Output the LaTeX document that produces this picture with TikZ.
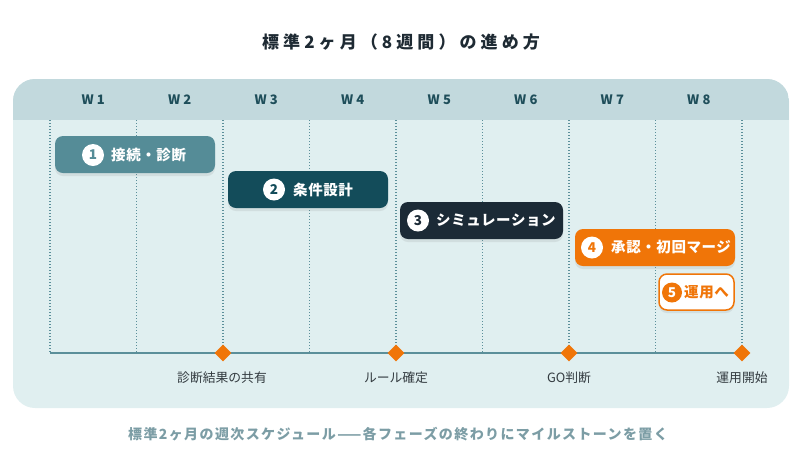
\documentclass[tikz,border=0pt]{standalone}
\usepackage{fontspec}
\setmainfont{Noto Sans CJK JP}
\newfontfamily\ttlfont{Noto Sans CJK JP}[LetterSpace=24]
\newfontfamily\capfont{Noto Sans CJK JP}[LetterSpace=10]
\newfontfamily\wkfam{Noto Sans CJK JP}[LetterSpace=25]
\newfontfamily\barfont{Noto Sans CJK JP}[LetterSpace=4]
\usetikzlibrary{shapes.geometric,shadows}
\definecolor{hdr}{HTML}{C2D9DD}
\definecolor{body}{HTML}{E0EFF0}
\definecolor{dotc}{HTML}{5B8F9A}
\definecolor{wktext}{HTML}{1E4E5A}
\definecolor{cA}{HTML}{558C97}
\definecolor{cB}{HTML}{134C5A}
\definecolor{cC}{HTML}{1B2A36}
\definecolor{org}{HTML}{F07508}
\definecolor{mstext}{HTML}{333B40}
\definecolor{captxt}{HTML}{7C9DA5}
\definecolor{ttl}{HTML}{1E2A33}
\tikzset{
  bar/.style={rounded corners=8pt, minimum height=37pt, inner sep=0pt,
    drop shadow={opacity=0.15, shadow xshift=0pt, shadow yshift=-3pt}},
  num/.style={circle, fill=white, minimum size=22pt, inner sep=0pt,
    font=\fontsize{13.5}{13.5}\selectfont\bfseries},
  lbl/.style={anchor=west, inner sep=0pt, text=white,
    font=\barfont\fontsize{14.5}{15}\selectfont\bfseries},
  ms/.style={diamond, fill=org, minimum width=17pt, minimum height=17pt, inner sep=0pt},
  mslbl/.style={font=\fontsize{12.8}{13}\selectfont, text=mstext},
  wk/.style={font=\wkfam\fontsize{13}{13}\selectfont\bfseries, text=wktext},
  gridline/.style={draw=dotc, line width=1.3pt, dash pattern=on 1.4pt off 1.6pt},
}
\begin{document}
\begin{tikzpicture}[x=1pt,y=-1pt]
\useasboundingbox (0,0) rectangle (800,459);
% title
\node[font=\ttlfont\fontsize{17}{18}\selectfont\bfseries, text=ttl] (title) at (401,42) {標準2ヶ月（8週間）の進め方};
% panel
\fill[body, rounded corners=22pt] (13,79) rectangle (789,408);
\begin{scope}
  \clip[rounded corners=22pt] (13,79) rectangle (789,408);
  \fill[hdr] (13,79) rectangle (789,120);
\end{scope}
% week labels
\foreach \i in {1,...,8} {
  \node[wk] (w\i) at ({50+86.5*(\i-0.5)},100) {W\i};
}
% grid coordinates and lines
\foreach \i in {0,...,8} {
  \coordinate (gt\i) at ({50+86.5*\i},120);
  \coordinate (gb\i) at ({50+86.5*\i},353);
  \draw[gridline] (gt\i) -- (gb\i);
}
% timeline
\draw[dotc, line width=2.5pt] (gb0) -- (gb8);
\node[ms] (m1) at (gb2) {};
\node[ms] (m2) at (gb4) {};
\node[ms] (m3) at (gb6) {};
\node[ms] (m4) at (gb8) {};
\node[mslbl] (ml1) at (222,378) {診断結果の共有};
\node[mslbl] (ml2) at (396,378) {ルール確定};
\node[mslbl] (ml3) at (569,378) {GO判断};
\node[mslbl] (ml4) at (742,378) {運用開始};
% bars
\node[bar, fill=cA, minimum width=160pt] (b1) at (135,154.5) {};
\node[num, text=cA] (n1) at (93,155) {1};
\node[lbl] (t1) at (111,155) {接続・診断};
\node[bar, fill=cB, minimum width=160pt] (b2) at (308,189.5) {};
\node[num, text=cB] (n2) at (274,189.5) {2};
\node[lbl] (t2) at (293,189.5) {条件設計};
\node[bar, fill=cC, minimum width=163pt] (b3) at (481.5,220.5) {};
\node[num, text=cC] (n3) at (418,220.5) {3};
\node[lbl] (t3) at (436,220.5) {シミュレーション};
\node[bar, fill=org, minimum width=160pt] (b4) at (655,247.5) {};
\node[num, text=org] (n4) at (592,247.5) {4};
\node[lbl] (t4) at (611,247.5) {承認・初回マージ};
\node[bar, fill=white, draw=org, line width=1.5pt, minimum width=75pt, minimum height=36pt] (b5) at (696.5,292) {};
\node[num, fill=org, text=white, minimum size=20pt] (n5) at (672,292.5) {5};
\node[lbl, text=org] (t5) at (684,292.5) {運用へ};
% caption
\node[font=\capfont\fontsize{14}{15}\selectfont\bfseries, text=captxt] (cap) at (398,434) {標準2ヶ月の週次スケジュール——各フェーズの終わりにマイルストーンを置く};
\end{tikzpicture}
\end{document}
